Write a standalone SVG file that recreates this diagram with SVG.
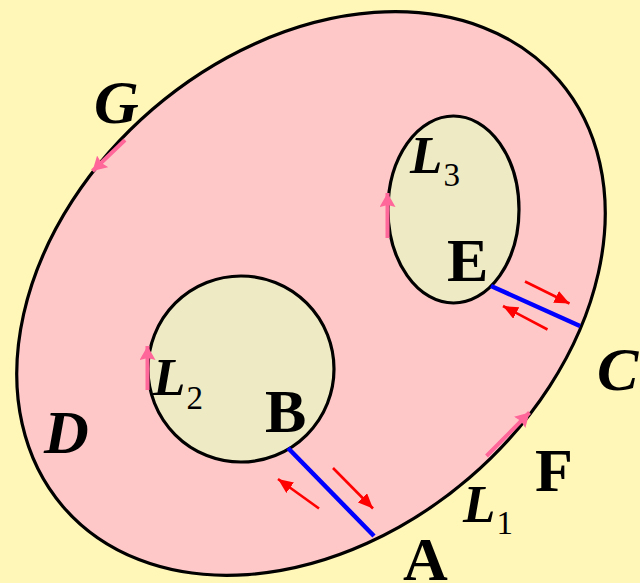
<svg xmlns="http://www.w3.org/2000/svg" width="640" height="583" viewBox="0 0 640 583">
<defs>
<style>
.bg{fill:#FFF7B8}
.outer{fill:#FFC8C8;stroke:#000;stroke-width:3.2}
.inner{fill:#EEEBC4;stroke:#000;stroke-width:3.2}
.cut{stroke:#0000FF;stroke-width:4.5;fill:none}
.red{stroke:#FF0000;stroke-width:2.6;fill:none;marker-end:url(#redHead)}
.pink{stroke:#FF6699;stroke-width:4;fill:none;marker-end:url(#pinkHead)}
.lbl{font-family:"Liberation Serif","Times New Roman",serif;font-weight:bold;fill:#000}
.up{font-size:62px}
.it{font-size:62px;font-style:italic}
.li{font-size:53px;font-style:italic}
.sub{font-size:33px;font-weight:normal;font-style:normal}
</style>
<marker id="redHead" markerUnits="userSpaceOnUse" markerWidth="16" markerHeight="14" refX="15" refY="6.5" orient="auto">
<path d="M0,0 L15,6.5 L0,13 z" fill="#FF0000"/>
</marker>
<marker id="pinkHead" markerUnits="userSpaceOnUse" markerWidth="16" markerHeight="16" refX="14" refY="8" orient="auto">
<path d="M0,0 L14,8 L0,16 L2,8 z" fill="#FF6699"/>
</marker>
</defs>
<rect class="bg" x="0" y="0" width="640" height="583"/>
<g id="region-L1">
<ellipse class="outer" cx="311" cy="293.5" rx="327" ry="243" transform="rotate(-40.7 311 293.5)"/>
</g>
<g id="hole-L2">
<circle class="inner" cx="241" cy="369" r="93"/>
</g>
<g id="hole-L3">
<ellipse class="inner" cx="453.5" cy="209.5" rx="65.5" ry="93.5"/>
</g>
<g id="connectors">
<line class="cut" x1="288" y1="448" x2="374" y2="536"/>
<line class="cut" x1="491" y1="286" x2="580" y2="326"/>
<line class="red" x1="333" y1="468" x2="373" y2="508.5"/>
<line class="red" x1="319" y1="508.5" x2="278" y2="479"/>
<line class="red" x1="525" y1="281.5" x2="569.5" y2="303.5"/>
<line class="red" x1="547.5" y1="329.5" x2="503" y2="306"/>
<line class="pink" x1="387.5" y1="238" x2="387.5" y2="193"/>
<line class="pink" x1="147.5" y1="390" x2="147.5" y2="346"/>
<line class="pink" x1="125" y1="140" x2="92.5" y2="171"/>
<line class="pink" x1="486.5" y1="456" x2="529.5" y2="412.5"/>
</g>
<g id="labels">
<text class="lbl it" x="94" y="123">G</text>
<text class="lbl it" x="44" y="453">D</text>
<text class="lbl it" x="597" y="390">C</text>
<text class="lbl up" x="403" y="580">A</text>
<text class="lbl up" x="265" y="432">B</text>
<text class="lbl up" x="447" y="281">E</text>
<text class="lbl up" x="535" y="491">F</text>
<text class="lbl li" x="410" y="173">L<tspan class="sub" dx="1" dy="13">3</tspan></text>
<text class="lbl li" x="153" y="395">L<tspan class="sub" dx="1" dy="14">2</tspan></text>
<text class="lbl li" x="463" y="522">L<tspan class="sub" dx="1" dy="12">1</tspan></text>
</g>
</svg>
